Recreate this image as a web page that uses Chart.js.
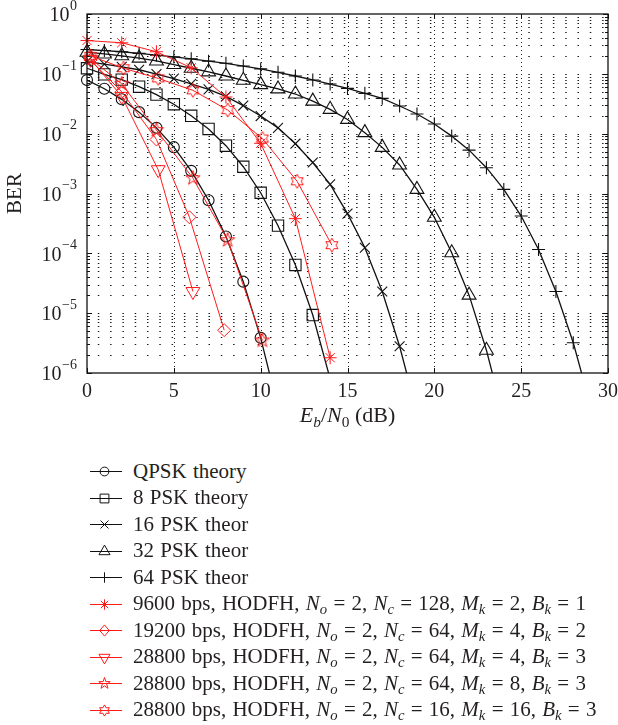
<!DOCTYPE html>
<html lang="en">
<head>
<meta charset="UTF-8">
<title>BER vs Eb/N0</title>
<script src="https://cdn.jsdelivr.net/npm/chart.js"></script>
<style>
  body { margin: 0; background: #fff; }
  #wrap { position: relative; width: 618px; height: 725px; font-family: "Liberation Serif", "Times New Roman", serif; color: #231f20; }
  #plot { position: absolute; left: 0; top: 0; width: 618px; height: 440px; }
  #xtitle { position: absolute; left: 87px; width: 521px; top: 402px; text-align: center; font-size: 22px; line-height: 26px; }
  .row { position: absolute; left: 89px; height: 26px; display: flex; align-items: center; font-size: 21px; word-spacing: 1px; white-space: nowrap; }
  .row canvas { margin-right: 10px; }
  sub { font-size: 70%; vertical-align: -0.3em; line-height: 0; }
</style>
</head>
<body>
<div id="wrap">
  <div id="plot"><canvas id="berChart"></canvas></div>
  <div id="xtitle"><i>E</i><sub><i>b</i></sub>/<i>N</i><sub>0</sub> (dB)</div>
  <div id="legend"></div>
</div>

<script>
// axis ticks
const xTicks = [0, 5, 10, 15, 20, 25, 30];
const yTickExps = [0, -1, -2, -3, -4, -5, -6];

// theory curves (last point of each lies below the axis, line only)
const qpskSnr = [0, 1, 2, 3, 4, 5, 6, 7, 8, 9, 10, 11];
const qpskBer = [0.0786, 0.0563, 0.0375, 0.0229, 0.0125, 0.00595, 0.00239, 0.000773, 0.000191, 3.36e-5, 3.87e-6, 2.61e-7];

const psk8Snr = [0, 1, 2, 3, 4, 5, 6, 7, 8, 9, 10, 11, 12, 13, 14];
const psk8Ber = [0.124, 0.098, 0.08, 0.061, 0.045, 0.031, 0.0199, 0.012, 0.0063, 0.0028, 0.00103, 2.9e-4, 6.4e-5, 9.3e-6, 8e-7];

const psk16Snr = [0, 1, 2, 3, 4, 5, 6, 7, 8, 9, 10, 11, 12, 13, 14, 15, 16, 17, 18, 19];
const psk16Ber = [0.16, 0.145, 0.131, 0.117, 0.099, 0.083, 0.068, 0.055, 0.042, 0.0295, 0.0197, 0.0125, 0.0068, 0.0033, 0.00142, 4.6e-4, 1.24e-4, 2.3e-5, 2.8e-6, 2.2e-7];

const psk32Snr = [0, 1, 2, 3, 4, 5, 6, 7, 8, 9, 10, 11, 12, 13, 14, 15, 16, 17, 18, 19, 20, 21, 22, 23, 24];
const psk32Ber = [0.23, 0.215, 0.2, 0.183, 0.164, 0.143, 0.124, 0.108, 0.092, 0.078, 0.066, 0.056, 0.046, 0.035, 0.0255, 0.0173, 0.0104, 0.0059, 0.003, 0.00117, 4.0e-4, 1.02e-4, 2.0e-5, 2.4e-6, 1.8e-7];

const psk64Snr = [0, 1, 2, 3, 4, 5, 6, 7, 8, 9, 10, 11, 12, 13, 14, 15, 16, 17, 18, 19, 20, 21, 22, 23, 24, 25, 26, 27, 28, 29];
const psk64Ber = [0.255, 0.245, 0.234, 0.22, 0.205, 0.192, 0.178, 0.163, 0.15, 0.135, 0.121, 0.106, 0.092, 0.079, 0.0675, 0.0571, 0.0472, 0.0389, 0.029, 0.0213, 0.0145, 0.0091, 0.0053, 0.0027, 0.00117, 4.2e-4, 1.16e-4, 2.3e-5, 3.2e-6, 2.8e-7];

// HODFH measurements
const hodfh9600Snr = [0, 2, 4, 6, 8, 10, 12, 14];
const hodfh9600Ber = [0.36, 0.33, 0.234, 0.126, 0.041, 0.0069, 3.8e-4, 1.8e-6];

const hodfh19200Snr = [0.2, 2, 4, 5.9, 7.9];
const hodfh19200Ber = [0.17, 0.05, 0.008, 4.0e-4, 5.2e-6];

const hodfh28800m4Snr = [0.2, 2, 4.1, 6.1];
const hodfh28800m4Ber = [0.175, 0.042, 0.0025, 2.3e-5];

const hodfh28800m8Snr = [0.2, 2, 4, 6.1, 8.1, 10.1];
const hodfh28800m8Ber = [0.18, 0.068, 0.0115, 0.0018, 1.66e-4, 3.5e-6];

const hodfh28800m16Snr = [0.2, 2.1, 4.1, 6.1, 8.1, 10.1, 12.1, 14.1];
const hodfh28800m16Ber = [0.2, 0.124, 0.084, 0.053, 0.0248, 0.0083, 0.0016, 1.37e-4];

const legendLabels = [
    'QPSK theory',
    '8 PSK theory',
    '16 PSK theor',
    '32 PSK theor',
    '64 PSK theor',
    '9600 bps, HODFH, <i>N</i><sub><i>o</i></sub> = 2, <i>N</i><sub><i>c</i></sub> = 128, <i>M</i><sub><i>k</i></sub> = 2, <i>B</i><sub><i>k</i></sub> = 1',
    '19200 bps, HODFH, <i>N</i><sub><i>o</i></sub> = 2, <i>N</i><sub><i>c</i></sub> = 64, <i>M</i><sub><i>k</i></sub> = 4, <i>B</i><sub><i>k</i></sub> = 2',
    '28800 bps, HODFH, <i>N</i><sub><i>o</i></sub> = 2, <i>N</i><sub><i>c</i></sub> = 64, <i>M</i><sub><i>k</i></sub> = 4, <i>B</i><sub><i>k</i></sub> = 3',
    '28800 bps, HODFH, <i>N</i><sub><i>o</i></sub> = 2, <i>N</i><sub><i>c</i></sub> = 64, <i>M</i><sub><i>k</i></sub> = 8, <i>B</i><sub><i>k</i></sub> = 3',
    '28800 bps, HODFH, <i>N</i><sub><i>o</i></sub> = 2, <i>N</i><sub><i>c</i></sub> = 16, <i>M</i><sub><i>k</i></sub> = 16, <i>B</i><sub><i>k</i></sub> = 3'
];
const legendMarkers = ['circle', 'square', 'x', 'tri', 'plus', 'asterisk', 'diamond', 'triDown', 'pentagram', 'hexagram'];

const RED = '#ff1a1a';
const BLACK = '#111';
const FONT = '"Liberation Serif", "Times New Roman", serif';

// marker shapes for legend and star point images
function drawMarker(ctx, style, cx, cy, color, s) {
    ctx.strokeStyle = color;
    ctx.lineWidth = 1;
    ctx.beginPath();
    const star = (n, R, r) => {
        for (let i = 0; i < 2 * n; i++) {
            const a = -Math.PI / 2 + i * Math.PI / n;
            const rr = i % 2 ? r : R;
            const px = cx + rr * Math.cos(a), py = cy + rr * Math.sin(a);
            i ? ctx.lineTo(px, py) : ctx.moveTo(px, py);
        }
        ctx.closePath();
    };
    switch (style) {
        case 'circle': ctx.arc(cx, cy, 5.5 * s, 0, 2 * Math.PI); break;
        case 'square': ctx.rect(cx - 5.5 * s, cy - 5.5 * s, 11 * s, 11 * s); break;
        case 'x':
            ctx.moveTo(cx - 5 * s, cy - 5 * s); ctx.lineTo(cx + 5 * s, cy + 5 * s);
            ctx.moveTo(cx + 5 * s, cy - 5 * s); ctx.lineTo(cx - 5 * s, cy + 5 * s); break;
        case 'tri':
            ctx.moveTo(cx, cy - 8 * s); ctx.lineTo(cx + 6.9 * s, cy + 4 * s); ctx.lineTo(cx - 6.9 * s, cy + 4 * s); ctx.closePath(); break;
        case 'triDown':
            ctx.moveTo(cx, cy + 8 * s); ctx.lineTo(cx + 6.9 * s, cy - 4 * s); ctx.lineTo(cx - 6.9 * s, cy - 4 * s); ctx.closePath(); break;
        case 'plus':
            ctx.moveTo(cx - 6.5 * s, cy); ctx.lineTo(cx + 6.5 * s, cy);
            ctx.moveTo(cx, cy - 6.5 * s); ctx.lineTo(cx, cy + 6.5 * s); break;
        case 'asterisk':
            for (let i = 0; i < 4; i++) {
                const a = i * Math.PI / 4;
                ctx.moveTo(cx - 6.5 * s * Math.cos(a), cy - 6.5 * s * Math.sin(a));
                ctx.lineTo(cx + 6.5 * s * Math.cos(a), cy + 6.5 * s * Math.sin(a));
            }
            break;
        case 'diamond':
            ctx.moveTo(cx, cy - 7 * s); ctx.lineTo(cx + 6 * s, cy); ctx.lineTo(cx, cy + 7 * s); ctx.lineTo(cx - 6 * s, cy); ctx.closePath(); break;
        case 'pentagram': star(5, 7.5 * s, 2.9 * s); break;
        case 'hexagram': star(6, 7 * s, 4 * s); break;
    }
    ctx.stroke();
}

function markerImage(style, color) {
    const c = document.createElement('canvas');
    c.width = 20; c.height = 20;
    drawMarker(c.getContext('2d'), style, 10, 10, color, 1);
    return c;
}

function pts(xs, ys) {
    return xs.map((x, i) => ({ x: x, y: ys[i] }));
}

function theorySet(label, xs, ys, style, radius, rotation) {
    return {
        label: label,
        data: pts(xs, ys),
        borderColor: BLACK,
        borderWidth: 1.3,
        pointStyle: style,
        pointRotation: rotation || 0,
        pointRadius: ys.map((v, i) => i === ys.length - 1 ? 0 : radius),
        pointBorderColor: BLACK,
        pointBorderWidth: 1.1,
        pointBackgroundColor: 'rgba(0,0,0,0)',
        tension: 0,
        clip: { left: 10, top: 10, right: 10, bottom: 0 }
    };
}

function hodfhSet(label, xs, ys, style, radius, rotation) {
    return {
        label: label,
        data: pts(xs, ys),
        borderColor: RED,
        borderWidth: 1,
        pointStyle: style,
        pointRotation: rotation || 0,
        pointRadius: radius,
        pointBorderColor: RED,
        pointBorderWidth: 1,
        pointBackgroundColor: 'rgba(0,0,0,0)',
        tension: 0,
        clip: { left: 10, top: 10, right: 10, bottom: 0 }
    };
}

// grid, frame, ticks and tick labels
const framePlugin = {
    id: 'frame',
    beforeDatasetsDraw(chart) {
        const { ctx, chartArea: a, scales: { x, y } } = chart;
        const line = (x1, y1, x2, y2) => { ctx.beginPath(); ctx.moveTo(x1, y1); ctx.lineTo(x2, y2); ctx.stroke(); };
        ctx.save();
        ctx.strokeStyle = 'rgba(0,0,0,0.9)';
        ctx.lineWidth = 1.2;
        ctx.setLineDash([1.5, 10.8]);
        ctx.lineDashOffset = 1.5;
        for (let e = -6; e < 0; e++) {
            for (let k = 1; k <= 9; k++) {
                if (e === -6 && k === 1) continue;
                const py = Math.round(y.getPixelForValue(k * Math.pow(10, e))) + 0.5;
                line(a.left, py, a.right, py);
            }
        }
        ctx.lineWidth = 1;
        ctx.setLineDash([1, 3]);
        ctx.lineDashOffset = 0;
        xTicks.slice(1, -1).forEach(v => {
            const px = Math.round(x.getPixelForValue(v)) + 0.5;
            line(px, a.top, px, a.bottom);
        });
        ctx.restore();
    },
    afterDatasetsDraw(chart) {
        const { ctx, chartArea: a, scales: { x, y } } = chart;
        const line = (x1, y1, x2, y2) => { ctx.beginPath(); ctx.moveTo(x1, y1); ctx.lineTo(x2, y2); ctx.stroke(); };
        ctx.save();
        ctx.strokeStyle = '#111';
        ctx.lineWidth = 1.3;
        ctx.strokeRect(a.left, a.top, a.right - a.left, a.bottom - a.top);
        ctx.lineWidth = 1;
        // x ticks (inward, top and bottom)
        xTicks.forEach(v => {
            const px = Math.round(x.getPixelForValue(v)) + 0.5;
            line(px, a.bottom, px, a.bottom - 5);
            line(px, a.top, px, a.top + 5);
        });
        // y ticks, major and minor, both sides
        for (let e = -6; e <= 0; e++) {
            for (let k = 1; k <= 9; k++) {
                if (e === 0 && k > 1) break;
                const py = Math.round(y.getPixelForValue(k * Math.pow(10, e))) + 0.5;
                const len = k === 1 ? 5 : 3;
                line(a.left, py, a.left + len, py);
                line(a.right, py, a.right - len, py);
            }
        }
        // tick labels
        ctx.fillStyle = '#231f20';
        ctx.textBaseline = 'middle';
        ctx.textAlign = 'center';
        ctx.font = '20px ' + FONT;
        xTicks.forEach(v => ctx.fillText(String(v), x.getPixelForValue(v), a.bottom + 19));
        ctx.textAlign = 'right';
        yTickExps.forEach(e => {
            const py = y.getPixelForValue(Math.pow(10, e));
            const sup = e === 0 ? '0' : '\u2212' + (-e);
            ctx.font = '14px ' + FONT;
            const sw = ctx.measureText(sup).width;
            ctx.fillText(sup, 77, py - 8);
            ctx.font = '20px ' + FONT;
            ctx.fillText('10', 77 - sw - 0.5, py + 2);
        });
        // y title
        ctx.save();
        ctx.translate(15, (a.top + a.bottom) / 2);
        ctx.rotate(-Math.PI / 2);
        ctx.textAlign = 'center';
        ctx.font = '21px ' + FONT;
        ctx.fillText('BER', 0, 0);
        ctx.restore();
        ctx.restore();
    }
};

const datasets = [
    hodfhSet('9600 bps', hodfh9600Snr, hodfh9600Ber, 'star', 6.5),
    hodfhSet('19200 bps', hodfh19200Snr, hodfh19200Ber, 'rectRot', 6.5),
    hodfhSet('28800 bps Mk=4', hodfh28800m4Snr, hodfh28800m4Ber, 'triangle', 8, 180),
    hodfhSet('28800 bps Mk=8', hodfh28800m8Snr, hodfh28800m8Ber, markerImage('pentagram', RED), 7),
    hodfhSet('28800 bps Mk=16', hodfh28800m16Snr, hodfh28800m16Ber, markerImage('hexagram', RED), 7),
    theorySet('QPSK theory', qpskSnr, qpskBer, 'circle', 5.5),
    theorySet('8 PSK theory', psk8Snr, psk8Ber, 'rect', 8),
    theorySet('16 PSK theor', psk16Snr, psk16Ber, 'crossRot', 7),
    theorySet('32 PSK theor', psk32Snr, psk32Ber, 'triangle', 8),
    theorySet('64 PSK theor', psk64Snr, psk64Ber, 'cross', 6.5)
];

new Chart(document.getElementById('berChart'), {
    type: 'line',
    data: { datasets: datasets },
    options: {
        responsive: true,
        maintainAspectRatio: false,
        animation: false,
        layout: { padding: { left: 0, right: 10, top: 14, bottom: 0 } },
        plugins: { legend: { display: false }, tooltip: { enabled: false } },
        scales: {
            x: {
                type: 'linear', min: 0, max: 30,
                grid: { display: false, drawTicks: false },
                border: { display: false },
                ticks: { display: false },
                afterFit(s) { s.height = 67; }
            },
            y: {
                type: 'logarithmic', min: 1e-6, max: 1,
                grid: { display: false, drawTicks: false },
                border: { display: false },
                ticks: { display: false },
                afterFit(s) { s.width = 87; }
            }
        }
    },
    plugins: [framePlugin]
});

// legend below the plot
const legendEl = document.getElementById('legend');
legendLabels.forEach((text, i) => {
    const row = document.createElement('div');
    row.className = 'row';
    row.style.top = (458 + i * 26.5) + 'px';
    const c = document.createElement('canvas');
    c.width = 34; c.height = 22;
    const cx = c.getContext('2d');
    const color = i < 5 ? BLACK : RED;
    cx.strokeStyle = color;
    cx.lineWidth = 1;
    cx.beginPath(); cx.moveTo(1, 11.5); cx.lineTo(33, 11.5); cx.stroke();
    drawMarker(cx, legendMarkers[i], 15.5, 11.5, color, 0.8);
    row.appendChild(c);
    const span = document.createElement('span');
    span.innerHTML = text;
    row.appendChild(span);
    legendEl.appendChild(row);
});
</script>
</body>
</html>
